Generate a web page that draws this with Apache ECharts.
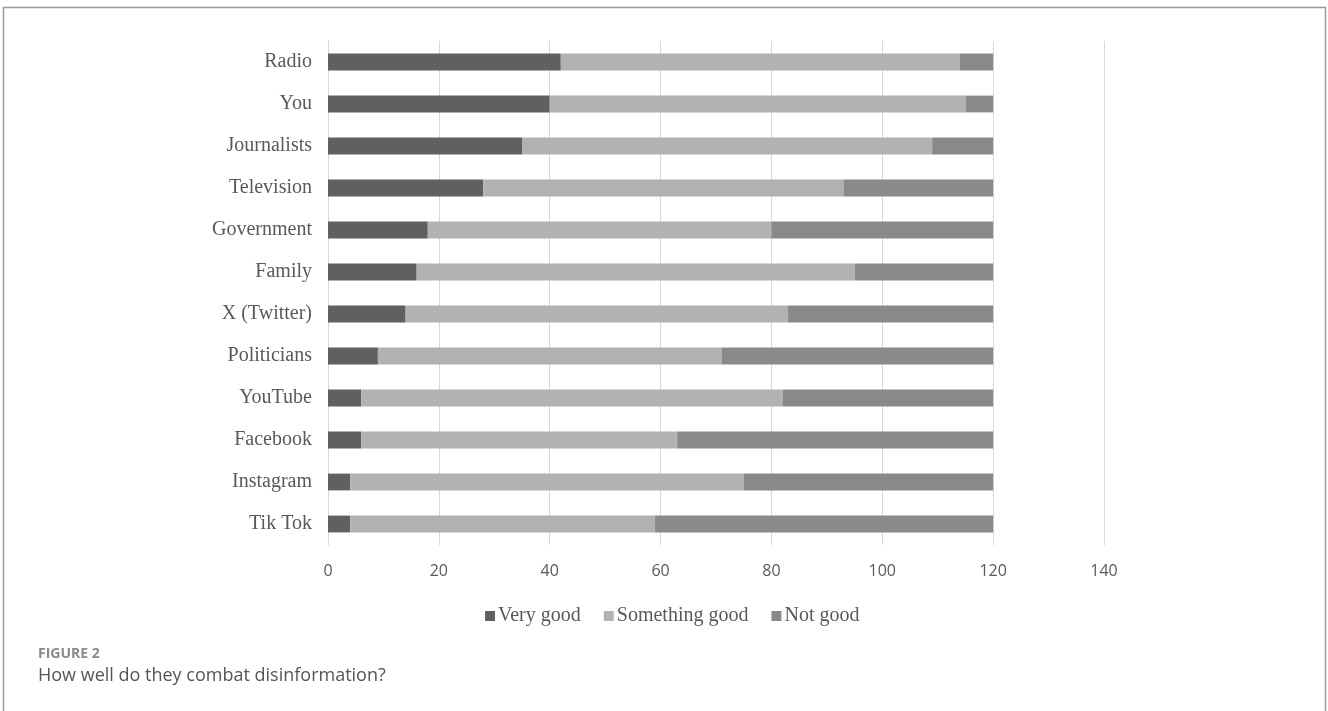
<!DOCTYPE html>
<html>
<head>
<meta charset="utf-8">
<script src="https://cdn.jsdelivr.net/npm/echarts@6/dist/echarts.min.js"></script>
<style>
html,body{margin:0;padding:0;background:#fff;}
#chart{width:1328px;height:711px;}
</style>
</head>
<body>
<div id="chart"></div>
<script>
const categories = ["Radio","You","Journalists","Television","Government","Family","X (Twitter)","Politicians","YouTube","Facebook","Instagram","Tik Tok"];
const veryGood      = [42, 40, 35, 28, 18, 16, 14, 9, 6, 6, 4, 4];
const somethingGood = [72, 75, 74, 65, 62, 79, 69, 62, 76, 57, 71, 55];
const notGood       = [6, 5, 11, 27, 40, 25, 37, 49, 38, 57, 45, 61];
const seriesNames = ["Very good","Something good","Not good"];
const xTicks = [0, 20, 40, 60, 80, 100, 120, 140];

const chart = echarts.init(document.getElementById('chart'), null, {renderer:'canvas'});
const colors = ['#606060','#b2b2b2','#898989'];
const values = [veryGood, somethingGood, notGood];

chart.setOption({
  animation:false,
  backgroundColor:'#ffffff',
  grid:{left:328, right:224, top:41, bottom:166, containLabel:false},
  legend:{
    data:seriesNames,
    left:480,
    top:601,
    icon:'rect',
    itemWidth:10, itemHeight:10, itemGap:23,
    textStyle:{fontFamily:'Liberation Serif', fontSize:20, color:'#595959', padding:[0,0,0,-2]}
  },
  xAxis:{
    type:'value',
    min:xTicks[0], max:xTicks[xTicks.length-1], interval:20,
    axisLine:{show:false}, axisTick:{show:false},
    splitLine:{show:true, lineStyle:{color:'#d9d9d9', width:1}},
    axisLabel:{margin:18, fontFamily:'Open Sans', fontSize:16, color:'#595959'}
  },
  yAxis:{
    type:'category', data:categories, inverse:true,
    axisLine:{show:true, lineStyle:{color:'#d9d9d9'}},
    axisTick:{show:false},
    axisLabel:{margin:16, fontFamily:'Liberation Serif', fontSize:20, color:'#595959'}
  },
  series: seriesNames.map((n,i)=>({
    name:n, type:'bar', stack:'total', data:values[i],
    barCategoryGap:'60%',
    itemStyle:{color:colors[i]}
  })),
  graphic:[
    {type:'rect', shape:{x:3.5, y:7.5, width:1322, height:720}, style:{fill:'none', stroke:'#9a9a9a', lineWidth:1.5}, silent:true},
    {type:'text', left:38, top:647, style:{text:'FIGURE 2', font:'bold 14px "Open Sans"', fill:'#8a8a8a'}},
    {type:'text', left:38, top:667, style:{text:'How well do they combat disinformation?', font:'18px "Open Sans"', fill:'#555555'}}
  ]
});
</script>
</body>
</html>
